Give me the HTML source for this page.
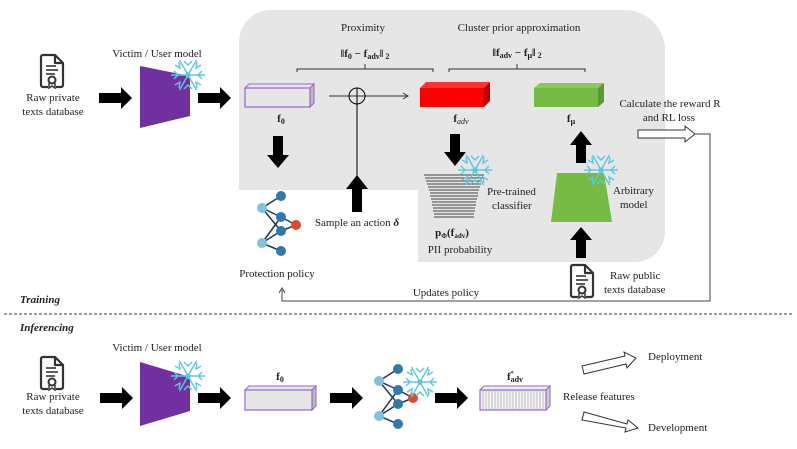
<!DOCTYPE html>
<html><head><meta charset="utf-8"><style>
html,body{margin:0;padding:0;background:#fff}
svg{display:block}
text{font-family:"Liberation Serif",serif;font-size:11px;fill:#222}
.b{font-weight:bold}
</style></head><body>
<svg width="797" height="449" viewBox="0 0 797 449" xmlns="http://www.w3.org/2000/svg">
<defs>
<g id="doc">
<path d="M14,0 H2 a2,2 0 0 0 -2,2 V30 a2,2 0 0 0 2,2 H7 M15,32 H20 a2,2 0 0 0 2,-2 V8 L14,0 V8 H22" fill="none" stroke="#333" stroke-width="2.2" stroke-linejoin="round"/>
<line x1="5" y1="11" x2="15" y2="11" stroke="#333" stroke-width="1.6"/>
<line x1="5" y1="15" x2="17" y2="15" stroke="#333" stroke-width="1.6"/>
<line x1="5" y1="19" x2="14" y2="19" stroke="#333" stroke-width="1.6"/>
<circle cx="11" cy="25" r="3.5" fill="none" stroke="#333" stroke-width="2"/>
<path d="M8,28 v5 l3,-2 l3,2 v-5" fill="none" stroke="#333" stroke-width="1.5"/>
</g>
<g id="snow" stroke="#5bc8e0" stroke-width="1.4" fill="none">
<line x1="-17" y1="0" x2="17" y2="0"/><line x1="-8.5" y1="-15" x2="8.5" y2="15"/><line x1="-8.5" y1="15" x2="8.5" y2="-15"/>
<path d="M-4,-14 l4,4 l4,-4 M-4,14 l4,-4 l4,4 M-14,-4 l4,4 l-4,4 M14,-4 l-4,4 l4,4 M-13,-10 l5,3 l-1,-6 M13,10 l-5,-3 l1,6 M13,-10 l-5,3 l1,-6 M-13,10 l5,-3 l-1,6"/>
<circle r="2"/>
</g>
<g id="barr"><polygon points="0,-5 22,-5 22,-11 33,0 22,11 22,5 0,5" fill="#000"/></g>
<g id="net">
<g stroke="#1f3a5a" stroke-width="1.5">
<line x1="4" y1="15" x2="23" y2="3"/><line x1="4" y1="15" x2="23" y2="24"/><line x1="4" y1="15" x2="23" y2="38"/>
<line x1="4" y1="50" x2="23" y2="24"/><line x1="4" y1="50" x2="23" y2="38"/><line x1="4" y1="50" x2="23" y2="58"/>
<line x1="23" y1="24" x2="38" y2="32"/><line x1="23" y1="38" x2="38" y2="32"/>
</g>
<circle cx="4" cy="15" r="5" fill="#7ec4e0"/><circle cx="4" cy="50" r="5" fill="#7ec4e0"/>
<circle cx="23" cy="3" r="5" fill="#2f79b0"/><circle cx="23" cy="24" r="5" fill="#2f79b0"/><circle cx="23" cy="38" r="5" fill="#2f79b0"/><circle cx="23" cy="58" r="5" fill="#2f79b0"/>
<circle cx="38" cy="32" r="5" fill="#e0492a"/>
</g>
</defs>

<path d="M239,190 V42 A32,32 0 0 1 271,10 H625 A40,40 0 0 1 665,50 V232 A30,30 0 0 1 635,262 H418 V190 Z" fill="#e6e6e6"/>

<use href="#doc" x="41" y="55"/>
<text x="53" y="101" text-anchor="middle">Raw private</text>
<text x="53" y="115" text-anchor="middle">texts database</text>
<use href="#barr" x="99" y="98"/>
<text x="157" y="57" text-anchor="middle">Victim / User model</text>
<polygon points="140,66 190,76 190,116 140,128" fill="#7030a0"/>
<use href="#snow" x="188" y="75"/>
<use href="#barr" x="198" y="98"/>
<polygon points="245,88 249,84 314,84 310,88" fill="#e6e6e6" stroke="#9966cc" stroke-width="1"/>
<polygon points="310,88 314,84 314,103 310,107" fill="#bbb" stroke="#9966cc" stroke-width="1"/>
<rect x="245" y="88" width="65" height="19" fill="#e6e6e6" stroke="#9966cc" stroke-width="1.2"/>
<text x="281" y="122" text-anchor="middle" class="b" font-size="12">f<tspan font-size="8" dy="2">0</tspan></text>
<polygon points="273,136 283,136 283,155 289,155 278,168 267,155 273,155" fill="#000"/>

<text x="363" y="31" text-anchor="middle" font-size="11.5">Proximity</text>
<text x="365" y="57" text-anchor="middle" class="b" font-size="13">‖f<tspan font-size="8" dy="2">0</tspan><tspan dy="-2"> − f</tspan><tspan font-size="8" dy="2">adv</tspan><tspan dy="-2">‖</tspan><tspan font-size="8" dy="2"> 2</tspan></text>
<path d="M297,72 v-3 H433 v3 M365,69 v-5" fill="none" stroke="#333" stroke-width="1"/>
<text x="519" y="31" text-anchor="middle" font-size="11.5">Cluster prior approximation</text>
<text x="517" y="56" text-anchor="middle" class="b" font-size="13">‖f<tspan font-size="8" dy="2">adv</tspan><tspan dy="-2"> − f</tspan><tspan font-size="8" dy="2">μ</tspan><tspan dy="-2">‖</tspan><tspan font-size="8" dy="2"> 2</tspan></text>
<path d="M449,72 v-3 H585 v3 M517,69 v-5" fill="none" stroke="#333" stroke-width="1"/>

<line x1="329" y1="96" x2="408" y2="96" stroke="#333" stroke-width="1"/>
<path d="M403,93 l5,3 l-5,3" fill="none" stroke="#333" stroke-width="1"/>
<circle cx="357" cy="96" r="8" fill="none" stroke="#000" stroke-width="1"/>
<line x1="357" y1="88" x2="357" y2="178" stroke="#000" stroke-width="1"/>
<polygon points="352,212 362,212 362,189 368,189 357,175 346,189 352,189" fill="#000"/>
<text x="357" y="226" text-anchor="middle" font-size="11.5">Sample an action <tspan font-weight="bold" font-style="italic">δ</tspan></text>

<polygon points="420,88 426,82 490,82 484,88" fill="#ff3333"/>
<polygon points="484,88 490,82 490,101 484,107" fill="#c00000"/>
<rect x="420" y="88" width="64" height="19" fill="#ff0000"/>
<text x="461" y="122" text-anchor="middle" class="b" font-size="12">f<tspan font-size="8" dy="2" font-style="italic" font-weight="normal">adv</tspan></text>
<polygon points="450,134 460,134 460,152 466,152 455,166 444,152 450,152" fill="#000"/>
<g stroke="#444" stroke-width="1">
<line x1="424" y1="175" x2="484" y2="175"/><line x1="425" y1="178" x2="483" y2="178"/><line x1="426" y1="181" x2="482" y2="181"/><line x1="427" y1="184" x2="481" y2="184"/><line x1="428" y1="187" x2="480" y2="187"/><line x1="429" y1="190" x2="479" y2="190"/><line x1="430" y1="193" x2="478" y2="193"/><line x1="430" y1="196" x2="478" y2="196"/><line x1="431" y1="199" x2="477" y2="199"/><line x1="432" y1="202" x2="476" y2="202"/><line x1="432" y1="205" x2="476" y2="205"/><line x1="433" y1="208" x2="475" y2="208"/><line x1="433" y1="211" x2="475" y2="211"/><line x1="434" y1="214" x2="474" y2="214"/><line x1="434" y1="217" x2="474" y2="217"/>
</g>
<use href="#snow" x="475" y="170"/>
<text x="487" y="195" font-size="11.5">Pre-trained</text>
<text x="492" y="209" font-size="11.5">classifier</text>
<text x="452" y="236" text-anchor="middle" class="b" font-size="12">p<tspan font-size="7" dy="2">Φ</tspan><tspan dy="-2">(f</tspan><tspan font-size="7" dy="2">adv</tspan><tspan dy="-2">)</tspan></text>
<text x="460" y="253" text-anchor="middle" font-size="11.5">PII probability</text>

<polygon points="534,88 540,83 604,83 598,88" fill="#8cc860"/>
<polygon points="598,88 604,83 604,102 598,107" fill="#5a9a30"/>
<rect x="534" y="88" width="64" height="19" fill="#77bb44"/>
<text x="571" y="122" text-anchor="middle" class="b" font-size="12">f<tspan font-size="8" dy="2">μ</tspan></text>
<polygon points="576,163 586,163 586,145 592,145 581,131 570,145 576,145" fill="#000"/>
<polygon points="557,173 604,173 612,222 551,222" fill="#77bb44"/>
<use href="#snow" x="601" y="170"/>
<text x="613" y="194" font-size="11.5">Arbitrary</text>
<text x="620" y="208" font-size="11.5">model</text>
<polygon points="576,258 586,258 586,240 592,240 581,227 570,240 576,240" fill="#000"/>
<use href="#doc" x="571" y="265"/>
<text x="610" y="279" font-size="11.5">Raw public</text>
<text x="604" y="293" font-size="11.5">texts database</text>

<text x="670" y="107" text-anchor="middle" font-size="11.5">Calculate the reward R</text>
<text x="669" y="121" text-anchor="middle" font-size="11.5">and RL loss</text>
<polygon points="638,130 685,130 685,126 695,134 685,142 685,138 638,138" fill="#fff" stroke="#333" stroke-width="1"/>
<path d="M695,134 H710 V301 H282 V290" fill="none" stroke="#444" stroke-width="1"/>
<path d="M279,293 l3,-5 l3,5" fill="none" stroke="#444" stroke-width="1"/>
<text x="446" y="296" text-anchor="middle" font-size="11.5">Updates policy</text>

<use href="#net" x="258" y="193"/>
<text x="277" y="277" text-anchor="middle" font-size="11.5">Protection policy</text>

<text x="20" y="303" class="b" font-style="italic">Training</text>
<line x1="4" y1="314" x2="792" y2="314" stroke="#666" stroke-width="1.2" stroke-dasharray="3,2"/>
<text x="20" y="331" class="b" font-style="italic">Inferencing</text>

<use href="#doc" x="41" y="357"/>
<text x="53" y="400" text-anchor="middle">Raw private</text>
<text x="53" y="414" text-anchor="middle">texts database</text>
<use href="#barr" x="100" y="398"/>
<text x="157" y="351" text-anchor="middle">Victim / User model</text>
<polygon points="140,362 190,377 190,411 140,426" fill="#7030a0"/>
<use href="#snow" x="188" y="376"/>
<use href="#barr" x="198" y="398"/>
<polygon points="245,390 249,386 316,386 312,390" fill="#e6e6e6" stroke="#9966cc" stroke-width="1"/>
<polygon points="312,390 316,386 316,406 312,410" fill="#bbb" stroke="#9966cc" stroke-width="1"/>
<rect x="245" y="390" width="67" height="20" fill="#e6e6e6" stroke="#9966cc" stroke-width="1.2"/>
<text x="280" y="380" text-anchor="middle" class="b" font-size="12">f<tspan font-size="8" dy="2">0</tspan></text>
<use href="#barr" x="330" y="398"/>
<use href="#net" x="375" y="366"/>
<use href="#snow" x="420" y="382"/>
<use href="#barr" x="435" y="398"/>
<polygon points="480,390 484,386 550,386 546,390" fill="#eee" stroke="#9966cc" stroke-width="1"/>
<polygon points="546,390 550,386 550,406 546,410" fill="#ccc" stroke="#9966cc" stroke-width="1"/>
<rect x="480" y="390" width="66" height="20" fill="#f4f4f4" stroke="#9966cc" stroke-width="1.2"/>
<g stroke="#999" stroke-width="0.6">
<path d="M483,390v20M486,390v20M489,390v20M492,390v20M495,390v20M498,390v20M501,390v20M504,390v20M507,390v20M510,390v20M513,390v20M516,390v20M519,390v20M522,390v20M525,390v20M528,390v20M531,390v20M534,390v20M537,390v20M540,390v20M543,390v20"/>
</g>
<text x="515" y="380" text-anchor="middle" class="b" font-size="12">f<tspan font-size="6" dy="-5">*</tspan><tspan font-size="8" dy="7" dx="-3">adv</tspan></text>
<text x="563" y="400" font-size="11.5">Release features</text>
<polygon points="582,366 625,356 624,352 636,358 627,368 626,364 584,374" fill="#fff" stroke="#333" stroke-width="1"/>
<polygon points="584,412 627,424 628,420 638,428 625,432 626,428 582,420" fill="#fff" stroke="#333" stroke-width="1"/>
<text x="648" y="360">Deployment</text>
<text x="648" y="431">Development</text>
</svg>
</body></html>
